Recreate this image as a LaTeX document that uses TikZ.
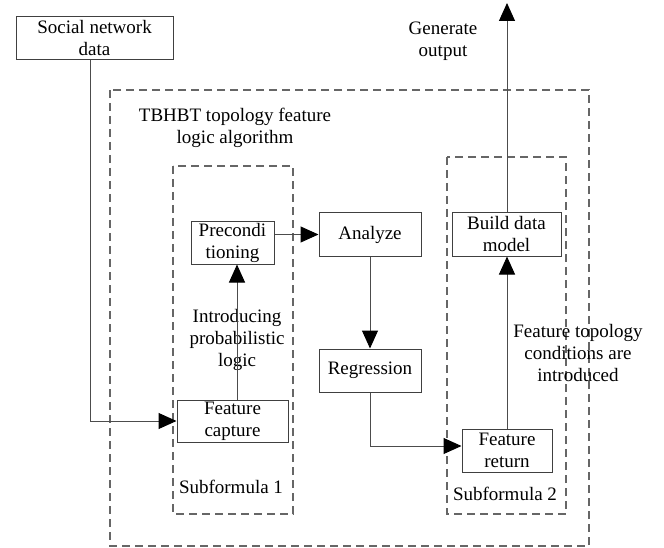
\documentclass[tikz,border=0pt]{standalone}
\usepackage{fontspec}
\setmainfont{Liberation Serif}
\usetikzlibrary{arrows.meta}
\begin{document}
\begin{tikzpicture}[x=1pt,y=-1pt,
  box/.style={draw=black!75, line width=1pt, fill=white, align=center, inner sep=0pt, font=\rmfamily\fontsize{19}{22}\selectfont},
  lbl/.style={align=center, inner sep=0pt, font=\rmfamily\fontsize{19}{22}\selectfont},
  dbox/.style={draw=black!60, line width=1.3pt, dash pattern=on 8pt off 5pt},
  conn/.style={draw=black!70, line width=1pt},
  arr/.style={conn, -{Triangle[length=18pt,width=16pt,color=black]}}
]
\useasboundingbox (0,0) rectangle (664,548);
% containers
\draw[dbox] (110,90) rectangle (589,546);
\draw[dbox] (173,166) rectangle (293,514);
\draw[dbox] (447,157) rectangle (566,514);
% nodes
\node[box, minimum width=157, minimum height=43] (sn) at (94.5,38.5) {Social network\\data};
\node[box, minimum width=83, minimum height=42] (pre) at (232.5,243) {Precondi\\tioning};
\node[box, minimum width=102, minimum height=43] (an) at (370,234.5) {Analyze};
\node[box, minimum width=102, minimum height=43] (reg) at (370,370.5) {Regression};
\node[box, minimum width=111, minimum height=42] (fc) at (232.5,421) {Feature\\capture};
\node[box, minimum width=90, minimum height=43] (fr) at (507,450.5) {Feature\\return};
\node[box, minimum width=109, minimum height=43] (bdm) at (506.5,234.5) {Build data\\model};
\coordinate (out) at (507,3);
% labels
\node[lbl] (t1) at (235,128) {TBHBT topology feature\\logic algorithm};
\node[lbl] (t2) at (443,41) {Generate\\output};
\node[lbl] (t3) at (237,340) {Introducing\\probabilistic\\logic};
\node[lbl] (t4) at (578,353) {Feature topology\\conditions are\\introduced};
\node[lbl] (t5) at (231,487) {Subformula 1};
\node[lbl] (t6) at (505,494) {Subformula 2};
% connectors
\draw[arr] ([xshift=-4.5]sn.south) |- (fc.west);
\draw[arr] ([xshift=4.5]fc.north) -- ([xshift=4.5]pre.south);
\draw[arr] (pre.east |- an.west) -- (an.west);
\draw[arr] (an.south) -- (reg.north);
\draw[arr] (reg.south) |- ([yshift=4.5]fr.west);
\draw[arr] (fr.north) -- (fr.north |- bdm.south);
\draw[arr] (bdm.north -| out) -- (out);
\end{tikzpicture}
\end{document}
